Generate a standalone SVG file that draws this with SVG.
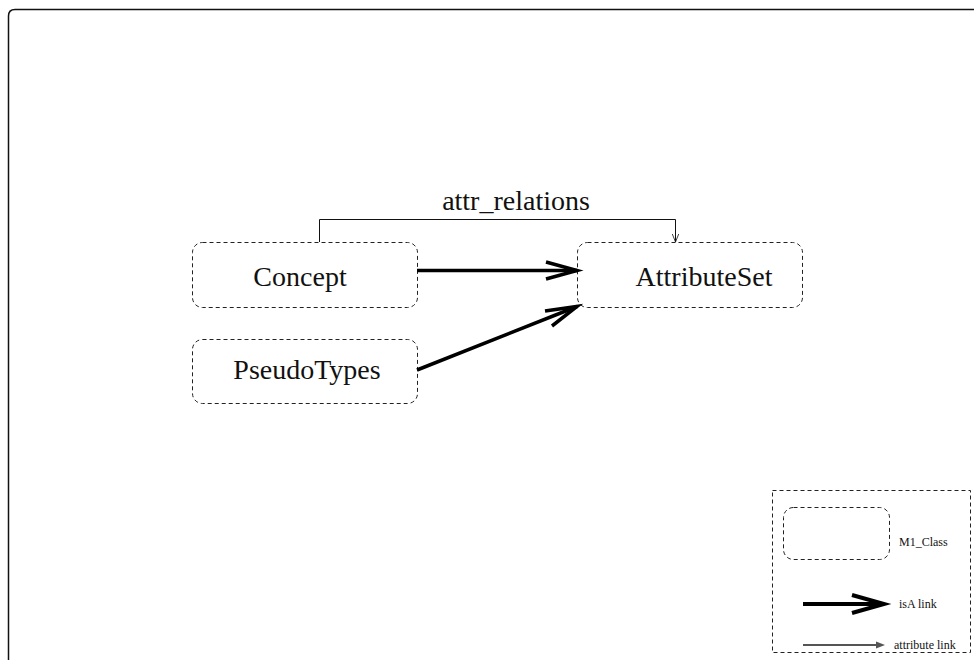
<svg xmlns="http://www.w3.org/2000/svg" width="974" height="660" viewBox="0 0 974 660">
  <defs>
    <style>
      .node { fill: none; stroke: #222; stroke-width: 1; stroke-dasharray: 4 3; }
      .label { font-family: "Liberation Serif", "Times New Roman", serif; fill: #111; }
      .big { font-size: 28px; }
      .small { font-size: 12px; }
      .isa { fill: none; stroke: #000; stroke-width: 3.5; stroke-linecap: butt; }
      .attr { fill: none; stroke: #111; stroke-width: 1; }
    </style>
    <marker id="attrHead" viewBox="0 0 10 10" refX="10" refY="5" markerWidth="8" markerHeight="8" markerUnits="userSpaceOnUse" orient="auto">
      <path d="M0,1 L10,5 L0,9" fill="none" stroke="#111" stroke-width="1"/>
    </marker>
  </defs>

  <rect width="974" height="660" fill="#fff"/>

  <!-- page frame -->
  <path d="M8.5,662 L8.5,16 Q8.5,9.5 15,9.5 L976,9.5" fill="none" stroke="#111" stroke-width="1.5"/>

  <!-- nodes -->
  <g id="concept">
    <rect class="node" x="192.5" y="242.5" width="225" height="65" rx="10"/>
    <text class="label big" x="300" y="286" text-anchor="middle">Concept</text>
  </g>
  <g id="pseudotypes">
    <rect class="node" x="192.5" y="339.5" width="225" height="64" rx="10"/>
    <text class="label big" x="307" y="379" text-anchor="middle">PseudoTypes</text>
  </g>
  <g id="attributeset">
    <rect class="node" x="577.5" y="242.5" width="225" height="65" rx="10"/>
    <text class="label big" x="704" y="286" text-anchor="middle">AttributeSet</text>
  </g>

  <!-- connectors -->
  <g id="connectors">
    <!-- attr_relations: Concept -> AttributeSet -->
    <path class="attr" d="M319.5,242 L319.5,219.5 L675.5,219.5 L675.5,242" marker-end="url(#attrHead)"/>
    <text class="label big" x="516" y="210" text-anchor="middle">attr_relations</text>

    <!-- isA links -->
    <path class="isa" d="M417,270.5 L577,270.5"/>
    <path class="isa" d="M546,262 L577,270.5 L546,279"/>
    <path class="isa" d="M417,370 L577,306.5"/>
    <path class="isa" d="M545,311 L577,306.5 L552,326"/>
  </g>

  <!-- legend -->
  <g id="legend">
    <rect class="node" x="772.5" y="490.5" width="198" height="162"/>
    <rect class="node" x="783.5" y="507.5" width="106" height="52" rx="10"/>
    <text class="label small" x="899" y="546">M1_Class</text>

    <path d="M803,604 L883,604" fill="none" stroke="#000" stroke-width="4"/>
    <path d="M852,595 L884,604 L852,613" fill="none" stroke="#000" stroke-width="4"/>
    <text class="label small" x="899" y="608">isA link</text>

    <path d="M803,645 L878,645" fill="none" stroke="#555" stroke-width="2"/>
    <path d="M876,641.5 L885,645 L876,648.5 Z" fill="#555"/>
    <text class="label small" x="894" y="649">attribute link</text>
  </g>
</svg>
